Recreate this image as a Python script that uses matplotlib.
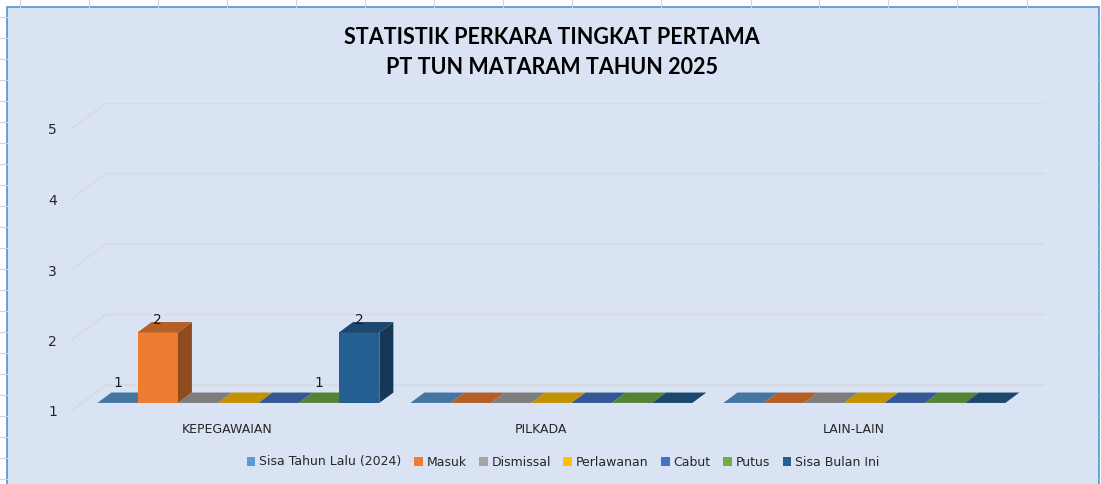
import numpy as np
import matplotlib
matplotlib.use('Agg')
from matplotlib import pyplot as plt
from matplotlib.patches import Polygon, Rectangle, Patch
import matplotlib.colors as mcolors

########
# DATA #
########

categories = ['KEPEGAWAIAN', 'PILKADA', 'LAIN-LAIN']
series_names = ['Sisa Tahun Lalu (2024)', 'Masuk', 'Dismissal', 'Perlawanan',
                'Cabut', 'Putus', 'Sisa Bulan Ini']
sisa_lalu = [1, 0, 0]
masuk = [2, 0, 0]
dismissal = [0, 0, 0]
perlawanan = [0, 0, 0]
cabut = [0, 0, 0]
putus = [1, 0, 0]
sisa_bulan_ini = [2, 0, 0]
yticks = [1, 2, 3, 4, 5]

values = [sisa_lalu, masuk, dismissal, perlawanan, cabut, putus, sisa_bulan_ini]
colors = ['#5B9BD5', '#ED7D31', '#A5A5A5', '#FFC000', '#4472C4', '#70AD47',
          '#255E91']

title = 'STATISTIK PERKARA TINGKAT PERTAMA\nPT TUN MATARAM TAHUN 2025'

# pseudo-3D geometry (category units / value units)
DX = 35 / 313.
DY = 26 / 70.5
F1, F2 = 0.31, 0.71       # front / back of the bars inside the floor depth
GAP = 15.5 / 313.
W = (1 - 2 * GAP) / len(series_names)
YMIN = 1


def shade(c, f):
    r, g, b = mcolors.to_rgb(c)
    return (r * f, g * f, b * f)


fig = plt.figure(figsize=(11.01, 4.84), dpi=100)
fig.patch.set_facecolor('white')

# spreadsheet background + chart area
bg = fig.add_axes([0, 0, 1, 1])
bg.set_xlim(0, 1101)
bg.set_ylim(484, 0)
bg.axis('off')
for x in [20, 89, 158, 227, 296, 365, 434, 503, 572, 661, 751, 819, 888, 957, 1027]:
    bg.plot([x, x], [0, 7], color='#d4d4d4', lw=0.8)
for y in np.arange(17, 484, 21):
    bg.plot([0, 7], [y, y], color='#d4d4d4', lw=0.8)
    bg.plot([1099, 1101], [y, y], color='#d4d4d4', lw=0.8)
bg.add_patch(Rectangle((6.5, 7), 1092.5, 490, facecolor='#DAE3F3',
                       edgecolor='#5B9BD5', lw=1.3))

# main plot
ax = fig.add_axes([71 / 1101., 1 - 411 / 484., (1045 - 71) / 1101., (411 - 103) / 484.])
ax.set_facecolor('none')
ncat = len(categories)
ax.set_xlim(0, ncat + DX)
ax.set_ylim(YMIN, max(yticks) + DY)
for s in ax.spines.values():
    s.set_visible(False)

# gridlines (wall + floor side)
for v in yticks:
    ax.plot([0, DX, ncat + DX], [v, v + DY, v + DY], color='#d6d9de', lw=1.0,
            zorder=1)

ax.set_yticks(yticks)
ax.set_yticklabels([str(v) for v in yticks], fontsize=10, color='#262626')
ax.tick_params(axis='y', length=0, pad=10)
ax.set_xticks([])

for i, vals in enumerate(values):
    c = colors[i]
    for j, v in enumerate(vals):
        x0 = j + GAP + i * W
        h = max(v, YMIN)
        xf, yf = x0 + F1 * DX, h + F1 * DY
        xb, yb = x0 + F2 * DX, h + F2 * DY
        top = [(xf, yf), (xf + W, yf), (xb + W, yb), (xb, yb)]
        if h > YMIN:
            ax.add_patch(Rectangle((xf, YMIN + F1 * DY), W, h - YMIN,
                                   facecolor=c, edgecolor='none', zorder=3))
            side = [(xf + W, YMIN + F1 * DY), (xb + W, YMIN + F2 * DY),
                    (xb + W, yb), (xf + W, yf)]
            ax.add_patch(Polygon(side, facecolor=shade(c, 0.6),
                                 edgecolor='none', zorder=3))
        ax.add_patch(Polygon(top, facecolor=shade(c, 0.76), edgecolor='none',
                             zorder=3))
        if v > 0:
            off = 0.03 if h == YMIN else -0.07
            ax.text(xf + W / 2, yb + off, str(v), ha='center', va='bottom',
                    fontsize=10, color='#1a1a1a', zorder=4)

# category labels
for j, cat in enumerate(categories):
    ax.text(j + 0.5, YMIN - 0.26, cat, ha='center', va='center', fontsize=9,
            color='#262626', clip_on=False)

fig.text(552 / 1101., 1 - 52.5 / 484., title, ha='center', va='center',
         fontsize=15.5, fontweight='bold', family='Lato', linespacing=1.5,
         color='black')

handles = [Patch(facecolor=c, edgecolor='none') for c in colors]
fig.legend(handles, series_names, loc='center', bbox_to_anchor=(563 / 1101., 1 - 462 / 484.),
           ncol=7, frameon=False, fontsize=9, handlelength=0.7, handleheight=0.7,
           handletextpad=0.3, columnspacing=1.0, labelcolor='#262626')

plt.savefig('out.png', dpi=100)
plt.close()
